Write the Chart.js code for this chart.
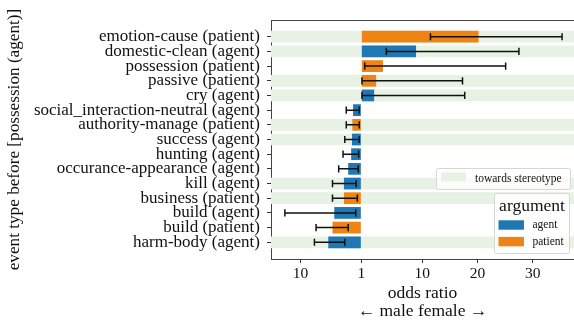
<!DOCTYPE html>
<html>
<head>
<meta charset="utf-8">
<script src="https://cdn.jsdelivr.net/npm/chart.js@4.4.1/dist/chart.umd.min.js"></script>
<style>
  html, body { margin: 0; padding: 0; background: #fff; overflow: hidden; }
</style>
</head>
<body>
<canvas id="chart" width="574" height="324"></canvas>
<script>
// rows, top to bottom
const categories = [
  'emotion-cause (patient)', 'domestic-clean (agent)', 'possession (patient)', 'passive (patient)',
  'cry (agent)', 'social_interaction-neutral (agent)', 'authority-manage (patient)', 'success (agent)',
  'hunting (agent)', 'occurance-appearance (agent)', 'kill (agent)', 'business (patient)',
  'build (agent)', 'build (patient)', 'harm-body (agent)'
];
const argType = ['patient', 'agent', 'patient', 'patient', 'agent', 'agent', 'patient', 'agent',
  'agent', 'agent', 'agent', 'patient', 'agent', 'patient', 'agent'];
const oddsRatio = [20.2, 9.1, 4.2, 3.2, 2.9, 0.45, 0.43, 0.42, 0.40, 0.34, 0.28, 0.28, 0.20, 0.19, 0.17];
const ciLow  = [11.5, 4.7, 1.5, 1.1, 1.1, 0.31, 0.31, 0.29, 0.27, 0.23, 0.19, 0.19, 0.078, 0.13, 0.126];
const ciHigh = [35.3, 27.5, 25.1, 17.3, 17.7, 0.77, 0.77, 0.77, 0.72, 0.69, 0.57, 0.63, 0.55, 0.34, 0.29];
const towardsStereotype = [true, true, false, true, true, false, true, true, false, false, true, true, false, false, true];

const xTickOdds = [0.1, 1, 10, 20, 30];
const xTickLabels = ['10', '1', '10', '20', '30'];
const xRange = [1 / 15.33, 37.46];

const SERIF = "'Liberation Serif', 'DejaVu Serif', serif";
const BLUE = '#1f77b4', ORANGE = '#ef8313', STRIPE = '#e7f2e5';

// odds ratio -> axis units (mirrored around 1, 1..10 stretched a bit)
function toAxis(r) {
  const f = r >= 1 ? r : 1 / r;
  const s = r >= 1 ? 1 : -1;
  const m = f <= 10 ? (f - 1) * 11 / 9 : f + 1;
  return s * m;
}

const rows = categories.map((_, i) => i);
const xMin = toAxis(xRange[0]), xMax = toAxis(xRange[1]);

function barPoints(kind) {
  return rows.filter(i => argType[i] === kind).map(i => ({ y: i, x: [0, toAxis(oddsRatio[i])] }));
}
const stripePoints = rows.filter(i => towardsStereotype[i]).map(i => ({ y: i, x: [xMin, xMax] }));

const errorBars = {
  id: 'errorBars',
  afterDatasetsDraw(chart) {
    const { ctx, scales: { x, y } } = chart;
    ctx.save();
    ctx.strokeStyle = '#111';
    ctx.lineWidth = 1.5;
    rows.forEach(i => {
      const py = y.getPixelForValue(i);
      const x0 = x.getPixelForValue(toAxis(ciLow[i]));
      const x1 = x.getPixelForValue(toAxis(ciHigh[i]));
      ctx.beginPath();
      ctx.moveTo(x0, py); ctx.lineTo(x1, py);
      ctx.moveTo(x0, py - 3.6); ctx.lineTo(x0, py + 3.6);
      ctx.moveTo(x1, py - 3.6); ctx.lineTo(x1, py + 3.6);
      ctx.stroke();
    });
    ctx.restore();
  }
};

function legendBox(ctx, x, y, w, h) {
  ctx.beginPath();
  ctx.roundRect(x, y, w, h, 2);
  ctx.fillStyle = 'rgba(255,255,255,0.85)';
  ctx.fill();
  ctx.strokeStyle = '#d6d6d6';
  ctx.lineWidth = 1;
  ctx.stroke();
}

const frameAndLegends = {
  id: 'frameAndLegends',
  afterDraw(chart) {
    const { ctx, chartArea: a } = chart;
    ctx.save();
    // top spine
    ctx.strokeStyle = '#444';
    ctx.lineWidth = 1;
    ctx.beginPath();
    ctx.moveTo(a.left, a.top + 0.5); ctx.lineTo(a.right, a.top + 0.5);
    ctx.stroke();

    const ds = chart.data.datasets;
    ctx.textBaseline = 'middle';
    ctx.textAlign = 'left';

    // stripe legend
    const sx = a.right - 138, sy = a.bottom - 91;
    legendBox(ctx, sx + 0.5, sy + 0.5, 134, 21);
    ctx.fillStyle = ds[2].backgroundColor;
    ctx.fillRect(sx + 5, sy + 4.5, 25, 9);
    ctx.fillStyle = '#111';
    ctx.font = '11.5px ' + SERIF;
    ctx.fillText(ds[2].label, sx + 39, sy + 10.5);

    // argument legend
    const lx = a.right - 80, ly = a.bottom - 66;
    legendBox(ctx, lx + 0.5, ly + 0.5, 75, 60);
    ctx.fillStyle = '#111';
    ctx.font = '17.5px ' + SERIF;
    ctx.textAlign = 'center';
    ctx.fillText('argument', lx + 38, ly + 13);
    ctx.textAlign = 'left';
    ctx.font = '11.5px ' + SERIF;
    [ds[0], ds[1]].forEach((d, k) => {
      const py = ly + 32 + k * 16.6;
      ctx.fillStyle = d.backgroundColor;
      ctx.fillRect(lx + 4.5, py - 4.7, 25.5, 9.4);
      ctx.fillStyle = '#111';
      ctx.fillText(d.label, lx + 38.5, py);
    });
    ctx.restore();
  }
};

new Chart(document.getElementById('chart'), {
  type: 'bar',
  data: {
    datasets: [
      { label: 'agent', data: barPoints('agent'), backgroundColor: BLUE },
      { label: 'patient', data: barPoints('patient'), backgroundColor: ORANGE },
      { label: 'towards stereotype', data: stripePoints, backgroundColor: STRIPE }
    ]
  },
  options: {
    indexAxis: 'y',
    responsive: false,
    animation: false,
    grouped: false,
    barPercentage: 0.8,
    categoryPercentage: 1,
    borderWidth: 0,
    layout: { padding: { top: 20, right: 0, left: 0, bottom: 0 } },
    plugins: { legend: { display: false }, tooltip: { enabled: false } },
    scales: {
      x: {
        type: 'linear',
        min: xMin,
        max: xMax,
        afterBuildTicks: s => { s.ticks = xTickOdds.map(v => ({ value: toAxis(v) })); },
        afterFit: s => { s.height = 65; },
        ticks: {
          callback: (v, i) => xTickLabels[i],
          color: '#111',
          font: { family: SERIF, size: 15.5 },
          padding: 2,
          maxRotation: 0,
          autoSkip: false
        },
        grid: { drawOnChartArea: false, drawTicks: true, tickLength: 4, color: '#333' },
        border: { display: true, color: '#444', width: 1 },
        title: {
          display: true,
          text: ['odds ratio', '\u2190 male female \u2192'],
          color: '#111',
          font: { family: SERIF, size: 17.5, lineHeight: 1.03 },
          padding: { top: 0, bottom: 4 }
        }
      },
      y: {
        type: 'linear',
        reverse: true,
        offset: false,
        min: -1.14,
        max: 15.14,
        afterBuildTicks: s => { s.ticks = rows.map(i => ({ value: i })); },
        afterFit: s => { s.width = 271; },
        ticks: {
          callback: v => categories[Math.round(v)],
          color: '#111',
          font: { family: SERIF, size: 17 },
          padding: 7,
          autoSkip: false
        },
        grid: { offset: false, drawOnChartArea: false, drawTicks: true, tickLength: 4, color: '#333' },
        border: { display: true, color: '#444', width: 1 },
        title: {
          display: true,
          text: 'event type before [possession (agent)]',
          color: '#111',
          font: { family: SERIF, size: 17.2 },
          padding: { top: 4, bottom: 0 }
        }
      }
    }
  },
  plugins: [errorBars, frameAndLegends]
});
</script>
</body>
</html>
